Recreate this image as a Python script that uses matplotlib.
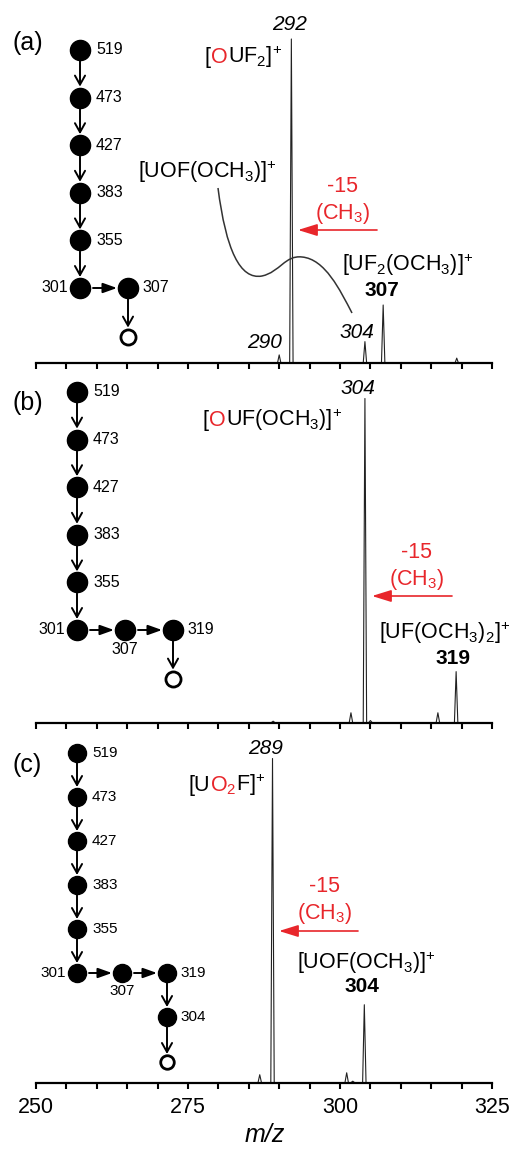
import matplotlib
matplotlib.use('Agg')
import matplotlib.pyplot as plt
from matplotlib.offsetbox import TextArea, HPacker, AnnotationBbox
from matplotlib.path import Path
from matplotlib.patches import PathPatch

plt.rcParams['font.family'] = ['Liberation Sans', 'DejaVu Sans']
plt.rcParams['mathtext.fontset'] = 'custom'
plt.rcParams['mathtext.rm'] = 'Liberation Sans'
plt.rcParams['mathtext.it'] = 'Liberation Sans:italic'
plt.rcParams['mathtext.bf'] = 'Liberation Sans:bold'
plt.rcParams['mathtext.default'] = 'regular'

# peak lists (m/z, relative intensity)
mz_a = [290.0, 292.0, 304.1, 307.1, 319.2]
int_a = [2.5, 100, 6.6, 17.9, 1.5]
mz_b = [289.0, 301.8, 304.1, 305.0, 316.1, 319.1]
int_b = [0.4, 3.0, 100, 0.6, 3.0, 15.7]
mz_c = [286.8, 288.9, 301.1, 302.1, 304.0]
int_c = [2.4, 100, 3.0, 0.4, 24.0]

tick_labels = ['250', '275', '300', '325']

# fragmentation trees
trunk = ['519', '473', '427', '383', '355', '301']
branch_a = ['307']
branch_b = ['307', '319']
branch_c = ['307', '319', '304']

W, H = 515, 1153
fig = plt.figure(figsize=(W / 100, H / 100), dpi=100)
RED = '#e8262b'


def px_axes(left, bottom_from_top, width, height):
    return fig.add_axes([left / W, 1 - bottom_from_top / H, width / W, height / H])


spectra = [(mz_a, int_a, 363), (mz_b, int_b, 722.5), (mz_c, int_c, 1082.5)]
axes = []
for i, (mz, inten, base) in enumerate(spectra):
    ax = px_axes(36, base, 456, 356)
    for m, h in zip(mz, inten):
        ax.plot([m - 0.28, m, m + 0.28], [0, h, 0], color='#222222', lw=0.8)
    ax.set_xlim(250, 325)
    ax.set_ylim(0, 356 / 3.24)
    for s in ['top', 'left', 'right']:
        ax.spines[s].set_visible(False)
    ax.spines['bottom'].set_linewidth(1.6)
    ax.set_yticks([])
    ax.set_xticks([int(t) for t in tick_labels])
    ax.set_xticks(range(250, 326, 5), minor=True)
    ax.tick_params(axis='x', which='both', direction='out', length=4.5, width=1.5, pad=6, labelsize=15.5)
    if i < 2:
        ax.set_xticklabels([])
    else:
        ax.set_xticklabels(tick_labels)
    ax.patch.set_alpha(0)
    axes.append(ax)

ov = fig.add_axes([0, 0, 1, 1])
ov.set_xlim(0, W)
ov.set_ylim(H, 0)
ov.axis('off')


def rich(x, y, parts, size=15.5, align=0.0):
    boxes = [TextArea(s, textprops=dict(color=c, fontsize=size)) for s, c in parts]
    pack = HPacker(children=boxes, align='baseline', pad=0, sep=0)
    ab = AnnotationBbox(pack, (x, y), xycoords='data', frameon=False,
                        box_alignment=(align, 0.5), pad=0)
    ov.add_artist(ab)


def varrow(x, y1, y2):
    ov.annotate('', xy=(x, y2), xytext=(x, y1),
                arrowprops=dict(arrowstyle='->,head_length=0.5,head_width=0.28',
                                lw=1.4, color='black', mutation_scale=13,
                                shrinkA=0, shrinkB=0))


def harrow(x1, x2, y):
    ov.annotate('', xy=(x2, y), xytext=(x1, y),
                arrowprops=dict(arrowstyle='-|>,head_length=0.7,head_width=0.25',
                                lw=1.4, color='black', mutation_scale=12,
                                shrinkA=0, shrinkB=0))


def red_arrow(x1, x2, y):
    ov.annotate('', xy=(x2, y), xytext=(x1, y),
                arrowprops=dict(arrowstyle='-|>,head_length=0.9,head_width=0.28',
                                lw=1.2, color=RED, mutation_scale=13, shrinkA=0, shrinkB=0))


def tree(x0, y0, dy, r, ms, fs, branch, step, below):
    ys = [y0 + k * dy for k in range(len(trunk))]
    for k, lab in enumerate(trunk):
        ov.plot(x0, ys[k], 'o', color='black', ms=ms)
        if lab == '301':
            ov.text(x0 - r - 2, ys[k], lab, ha='right', va='center', fontsize=fs)
        else:
            ov.text(x0 + r + 6, ys[k], lab, ha='left', va='center', fontsize=fs)
        if k < len(trunk) - 1:
            varrow(x0, ys[k] + r + 1, ys[k + 1] - r - 1)
    yr = ys[-1]
    xp = x0
    bx = x0
    by = yr
    for j, lab in enumerate(branch):
        if j < 2:
            bx = x0 + (j + 1) * step
            by = yr
            harrow(xp + r + 3, bx - r - 1, yr)
        else:
            by = by + dy
            varrow(bx, by - dy + r + 1, by - r - 1)
        ov.plot(bx, by, 'o', color='black', ms=ms)
        if lab in below and j < 2:
            ov.text(bx, by + r + 2, lab, ha='center', va='top', fontsize=fs)
        else:
            ov.text(bx + r + 4, by, lab, ha='left', va='center', fontsize=fs)
        xp = bx
    oy = by + dy + 1
    varrow(bx, by + r + 1, oy - r + 1)
    ov.plot(bx, oy, 'o', mfc='white', mec='black', mew=2, ms=ms * 0.75)


tree(80, 50, 47.6, 10, 14.5, 11.5, branch_a, 48, [])
tree(77, 392, 47.6, 10, 14.5, 11.5, branch_b, 48, ['307'])
tree(77, 753, 44, 9, 13, 11, branch_c, 45, ['307'])

# panel letters
for lab, y in [('(a)', 43), ('(b)', 403), ('(c)', 765)]:
    ov.text(12, y, lab, ha='left', va='center', fontsize=18)

# panel (a) annotations
ov.text(290, 24, '292', ha='center', va='center', fontsize=15, style='italic')
rich(205, 57, [('[', 'black'), ('O', RED), ('UF$_2$]$^{+}$', 'black')])
rich(138, 172, [('[UOF(OCH$_3$)]$^{+}$', 'black')])
ov.text(343, 187, '-15', ha='center', va='center', fontsize=15.5, color=RED)
ov.text(343, 213, '(CH$_3$)', ha='center', va='center', fontsize=15.5, color=RED)
red_arrow(377, 298, 230)
rich(408, 265, [('[UF$_2$(OCH$_3$)]$^{+}$', 'black')], align=0.5)
ov.text(382, 290, '307', ha='center', va='center', fontsize=15, weight='bold')
ov.text(357, 332, '304', ha='center', va='center', fontsize=15, style='italic')
ov.text(265, 343, '290', ha='center', va='center', fontsize=15, style='italic')
verts = [(218, 188), (226, 250), (240, 280), (262, 276),
         (280, 272), (285, 255), (302, 257),
         (325, 259), (340, 290), (352, 313)]
codes = [Path.MOVETO] + [Path.CURVE4] * 9
ov.add_patch(PathPatch(Path(verts, codes), fc='none', ec='#333333', lw=1.1))

# panel (b) annotations
ov.text(358, 388, '304', ha='center', va='center', fontsize=15, style='italic')
rich(203, 420, [('[', 'black'), ('O', RED), ('UF(OCH$_3$)]$^{+}$', 'black')])
ov.text(417, 553, '-15', ha='center', va='center', fontsize=15.5, color=RED)
ov.text(417, 580, '(CH$_3$)', ha='center', va='center', fontsize=15.5, color=RED)
red_arrow(452, 372, 596)
rich(445, 633, [('[UF(OCH$_3$)$_2$]$^{+}$', 'black')], align=0.5)
ov.text(453, 658, '319', ha='center', va='center', fontsize=15, weight='bold')

# panel (c) annotations
ov.text(266, 748, '289', ha='center', va='center', fontsize=15, style='italic')
rich(188, 785, [('[U', 'black'), ('O$_2$', RED), ('F]$^{+}$', 'black')])
ov.text(325, 887, '-15', ha='center', va='center', fontsize=15.5, color=RED)
ov.text(325, 913, '(CH$_3$)', ha='center', va='center', fontsize=15.5, color=RED)
red_arrow(358, 279, 931)
rich(366, 963, [('[UOF(OCH$_3$)]$^{+}$', 'black')], align=0.5)
ov.text(362, 987, '304', ha='center', va='center', fontsize=15, weight='bold')

ov.text(265, 1135, 'm/z', ha='center', va='center', fontsize=18, style='italic')

fig.savefig('out.png', dpi=100)
